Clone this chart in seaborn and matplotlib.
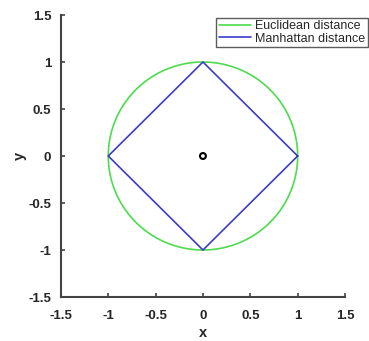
import numpy as np
import pandas as pd
import matplotlib
matplotlib.use('Agg')
import matplotlib.pyplot as plt
import seaborn as sns

# Unit distance shapes around the origin
radius = 1.0
diamond_x = [1, 0, -1, 0, 1]
diamond_y = [0, 1, 0, -1, 0]
center_x = [0]
center_y = [0]
ticks = [-1.5, -1, -0.5, 0, 0.5, 1, 1.5]
tick_labels = ['-1.5', '-1', '-0.5', '0', '0.5', '1', '1.5']

theta = np.linspace(0, 2 * np.pi, 361)
circle = pd.DataFrame({'x': radius * np.cos(theta), 'y': radius * np.sin(theta)})
diamond = pd.DataFrame({'x': diamond_x, 'y': diamond_y})

sns.set_style('white')
plt.rcParams['font.family'] = ['Liberation Sans', 'DejaVu Sans']

fig = plt.figure(figsize=(3.69, 3.41), dpi=100)
ax = fig.add_axes([0.165, 0.129, 0.77, 0.827])

sns.lineplot(data=circle, x='x', y='y', sort=False, estimator=None, color='#4cdc4c',
             linewidth=1.2, label='Euclidean distance', ax=ax)
sns.lineplot(data=diamond, x='x', y='y', sort=False, estimator=None, color='#3c3cc8',
             linewidth=1.2, label='Manhattan distance', ax=ax)
ax.scatter(center_x, center_y, s=18, facecolors='none', edgecolors='black', linewidths=1.5, zorder=5)

ax.set_xlim(-1.5, 1.5)
ax.set_ylim(-1.5, 1.5)
ax.set_xticks(ticks)
ax.set_xticklabels(tick_labels, fontweight='bold', fontsize=9.5)
ax.set_yticks(ticks)
ax.set_yticklabels(tick_labels, fontweight='bold', fontsize=9.5)
ax.tick_params(bottom=True, left=True, direction='in', length=3, width=1.2, color='#444444')
ax.tick_params(axis='x', pad=9)
ax.tick_params(axis='y', pad=7)
ax.set_xlabel('x', fontweight='bold', fontsize=10.5, labelpad=3)
ax.set_ylabel('y', fontweight='bold', fontsize=10.5, labelpad=1)

for side in ['top', 'right']:
    ax.spines[side].set_visible(False)
for side in ['left', 'bottom']:
    ax.spines[side].set_color('#444444')
    ax.spines[side].set_linewidth(1.5)

ax.get_legend().remove()
handles, labels = ax.get_legend_handles_labels()
leg = fig.legend(handles, labels, loc='upper right', bbox_to_anchor=(0.996, 0.948),
                 fontsize=9, frameon=True, fancybox=False, borderpad=0.2,
                 handlelength=2.6, handletextpad=0.3, labelspacing=0.05, borderaxespad=0)
leg.get_frame().set_edgecolor('#333333')
leg.get_frame().set_linewidth(1.0)

fig.savefig('out.png', dpi=100)
